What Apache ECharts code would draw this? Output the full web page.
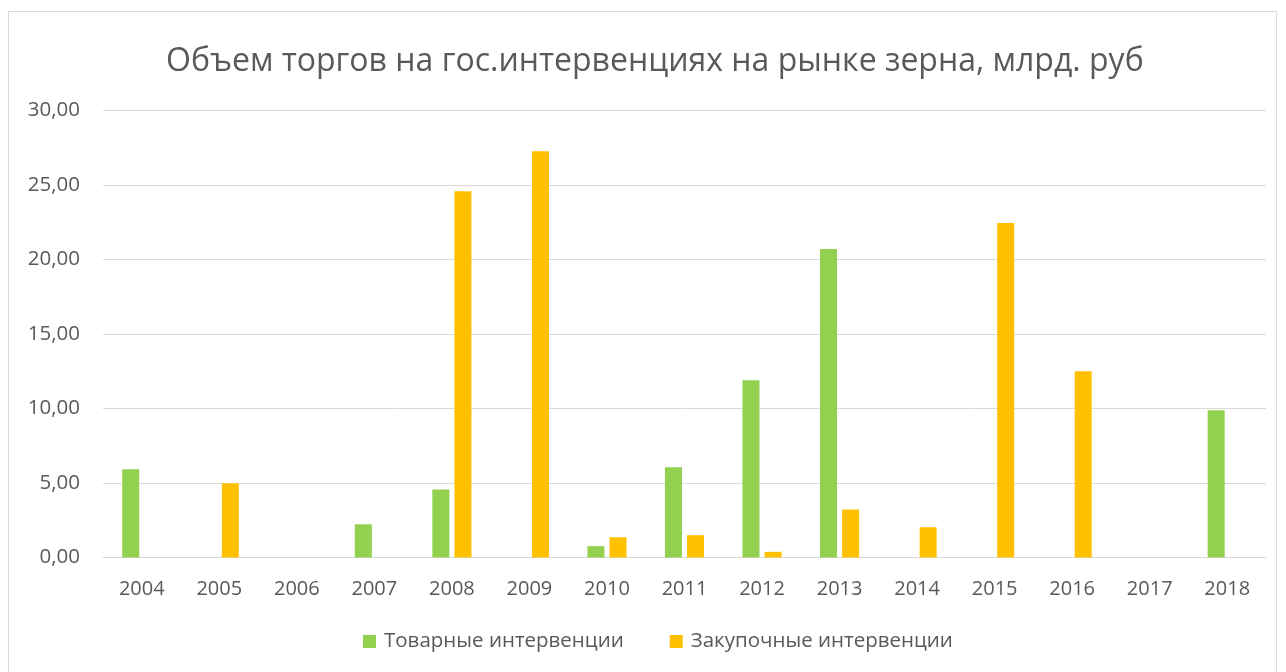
<!DOCTYPE html>
<html><head><meta charset="utf-8">
<script src="https://cdn.jsdelivr.net/npm/echarts@6/dist/echarts.min.js"></script>
<style>
html,body{margin:0;padding:0;background:#fff;}
#frame{position:absolute;left:8px;top:11px;width:1269px;height:670px;border:1px solid #d9d9d9;box-sizing:border-box;}
#c{position:absolute;left:0;top:0;width:1286px;height:672px;}
</style></head>
<body>
<div id="frame"></div>
<div id="c"></div>
<script>
const title = 'Объем торгов на гос.интервенциях на рынке зерна, млрд. руб';
const years = ['2004','2005','2006','2007','2008','2009','2010','2011','2012','2013','2014','2015','2016','2017','2018'];
const seriesNames = ['Товарные интервенции','Закупочные интервенции'];
const tovarnye = [5.93, 0, 0, 2.23, 4.56, 0, 0.76, 6.06, 11.9, 20.7, 0, 0, 0, 0, 9.89];
const zakupochnye = [0, 4.99, 0, 0, 24.58, 27.27, 1.36, 1.50, 0.38, 3.22, 2.03, 22.45, 12.5, 0, 0];
const colors = ['#92D050', '#FFC000'];

const font = 'Open Sans';
const chart = echarts.init(document.getElementById('c'));
chart.setOption({
  animation: false,
  title: {
    text: title, left: 161, top: 41,
    textStyle: {fontFamily: font, fontSize: 32, fontWeight: 'normal', color: '#595959'}
  },
  legend: {
    bottom: 15, left: 358, itemWidth: 13, itemHeight: 13, itemGap: 46,
    icon: 'rect',
    textStyle: {fontFamily: font, fontSize: 20.5, color: '#595959', padding: [0,0,0,3]},
    data: seriesNames
  },
  grid: {left: 103, right: 20, top: 110.5, bottom: 114.5, containLabel: false},
  xAxis: {
    type: 'category', data: years,
    axisLine: {lineStyle: {color: '#d9d9d9', width: 1}},
    axisTick: {show: false},
    axisLabel: {fontFamily: font, fontSize: 20, color: '#595959', margin: 22}
  },
  yAxis: {
    type: 'value', min: 0, max: 30, interval: 5,
    axisLine: {show: false}, axisTick: {show: false},
    splitLine: {lineStyle: {color: '#d9d9d9', width: 1}},
    axisLabel: {fontFamily: font, fontSize: 20.5, color: '#595959', margin: 23,
      formatter: v => v.toFixed(2).replace('.', ',')}
  },
  series: [
    {name: seriesNames[0], type: 'bar', data: tovarnye, barWidth: 17, barGap: '30%', itemStyle: {color: colors[0]}},
    {name: seriesNames[1], type: 'bar', data: zakupochnye, barWidth: 17, barGap: '30%', itemStyle: {color: colors[1]}}
  ]
});
</script>
</body></html>
